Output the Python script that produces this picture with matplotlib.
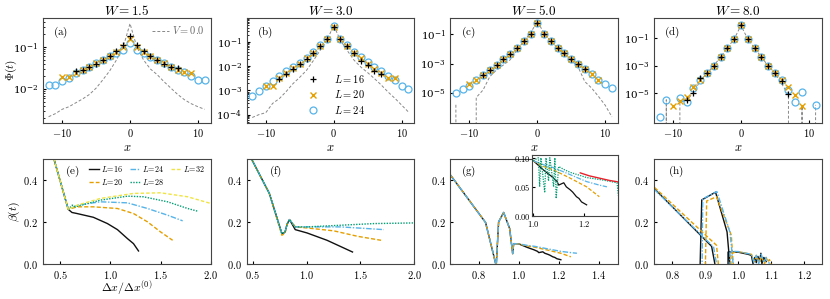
import numpy as np
import matplotlib.pyplot as plt
from matplotlib.ticker import FuncFormatter

plt.rcParams['mathtext.fontset'] = 'cm'
plt.rcParams['font.family'] = ['DejaVu Serif']
plt.rcParams['font.size'] = 7.5
plt.rcParams['axes.edgecolor'] = '#444444'
plt.rcParams['axes.linewidth'] = 0.8
plt.rcParams['xtick.direction'] = 'in'
plt.rcParams['ytick.direction'] = 'in'
plt.rcParams['xtick.major.size'] = 2.5
plt.rcParams['ytick.major.size'] = 2.5
plt.rcParams['xtick.minor.size'] = 1.2
plt.rcParams['ytick.minor.size'] = 1.2

orange = '#E69F00'
blue = '#56B4E9'
green = '#009E73'
yellow = '#F0E442'

# ---- top row: Phi(t) vs x ----
x16 = np.arange(-8, 8)
x20 = np.arange(-10, 10)
x24 = np.arange(-12, 12)

W_vals = [1.5, 3.0, 5.0, 8.0]

a16 = [0.027, 0.029, 0.034, 0.040, 0.049, 0.062, 0.082, 0.11, 0.185, 0.112, 0.082, 0.060, 0.049, 0.040, 0.034, 0.031]
a20 = [0.0195, 0.019, 0.024, 0.028, 0.034, 0.041, 0.049, 0.060, 0.075, 0.10, 0.155, 0.10, 0.075, 0.060, 0.049, 0.041, 0.034, 0.029, 0.025, 0.024]
a24 = [0.0123, 0.0124, 0.0157, 0.0188, 0.0237, 0.028, 0.034, 0.041, 0.049, 0.060, 0.072, 0.084, 0.124, 0.087, 0.072, 0.058, 0.049, 0.041, 0.034, 0.029, 0.025, 0.0205, 0.016, 0.016]
a_v0 = [0.0022, 0.0026, 0.0033, 0.0038, 0.0047, 0.0058, 0.0074, 0.0105, 0.0166, 0.027, 0.049, 0.10, 0.36, 0.10, 0.049, 0.030, 0.022, 0.015, 0.0106, 0.0075, 0.0056, 0.0045, 0.0038, 0.0033]

b16 = [3.1e-3, 4.6e-3, 8e-3, 0.012, 0.020, 0.036, 0.07, 0.135, 0.44, 0.135, 0.07, 0.036, 0.0166, 0.011, 6.5e-3, 4.6e-3]
b20 = [1.5e-3, 1.6e-3, 3.4e-3, 5.3e-3, 8.5e-3, 0.013, 0.021, 0.037, 0.07, 0.135, 0.44, 0.135, 0.07, 0.037, 0.021, 0.013, 8e-3, 5.3e-3, 3.4e-3, 3.2e-3]
b24 = [5.9e-4, 9.5e-4, 1.5e-3, 2.4e-3, 3.8e-3, 6.2e-3, 9.3e-3, 0.0136, 0.0225, 0.039, 0.073, 0.138, 0.45, 0.138, 0.073, 0.039, 0.024, 0.015, 0.0093, 0.0062, 0.0038, 2.6e-3, 1.5e-3, 1.1e-3]
b_v0 = [7.6e-5, 1.0e-4, 1.2e-4, 2.9e-4, 4.6e-4, 9e-4, 1.9e-3, 3.5e-3, 6.8e-3, 0.017, 0.045, 0.117, 0.49, 0.117, 0.045, 0.018, 9.3e-3, 5.5e-3, 3.1e-3, 1.7e-3, 8.7e-4, 4.8e-4, 2.5e-4, 1.3e-4]

c16 = [1.7e-4, 3.7e-4, 8e-4, 2e-3, 4.6e-3, 0.011, 0.032, 0.1, 0.56, 0.1, 0.032, 0.011, 5e-3, 2.2e-3, 9.5e-4, 4e-4]
c20 = [4.3e-5, 7.8e-5, 1.7e-4, 3.7e-4, 8e-4, 2e-3, 4.6e-3, 0.011, 0.032, 0.1, 0.56, 0.1, 0.032, 0.011, 5e-3, 2e-3, 9.5e-4, 4e-4, 2e-4, 7.5e-5]
c24 = [1e-5, 1.8e-5, 3e-5, 7.8e-5, 1.7e-4, 3.7e-4, 8e-4, 2e-3, 4.6e-3, 0.011, 0.032, 0.1, 0.56, 0.1, 0.032, 0.011, 5e-3, 2e-3, 9.5e-4, 4e-4, 2e-4, 7.8e-5, 4e-5, 2.1e-5]
c_v0 = [1.6e-6, 0, 0, 5e-6, 1.6e-5, 1.3e-4, 3.7e-4, 8e-4, 1.8e-3, 8.5e-3, 0.032, 0.12, 0.7, 0.12, 0.032, 0.011, 4e-3, 1.6e-3, 6e-4, 6e-5, 2.2e-5, 6e-6, 1.5e-6, 2.4e-7]

d16 = [3.5e-6, 1.1e-5, 1.2e-4, 3.2e-4, 1e-3, 4.3e-3, 0.019, 0.085, 0.8, 0.085, 0.019, 4.3e-3, 1e-3, 3e-4, 8e-5, 8.5e-6]
d20 = [1.3e-6, 3e-6, 6e-6, 3e-5, 1e-4, 3.2e-4, 1e-3, 4.3e-3, 0.019, 0.085, 0.8, 0.085, 0.019, 4.3e-3, 1e-3, 3e-4, 1e-4, 3e-5, 8e-6, 1.2e-6]
d24 = [2e-7, 3.5e-6, np.nan, 4.5e-6, 2.5e-6, 2.3e-5, 1e-4, 3.2e-4, 1e-3, 4.3e-3, 0.019, 0.085, 0.8, 0.085, 0.019, 4.3e-3, 1e-3, 3e-4, 1e-4, 1.7e-5, 2.5e-6, 1.3e-5, np.nan, 1.5e-6]
d_v0 = [0, 3.5e-6, 0, 2.5e-6, 3e-6, 1.2e-5, 8e-5, 3e-4, 1e-3, 4.3e-3, 0.019, 0.085, 0.8, 0.085, 0.019, 4.3e-3, 1e-3, 3e-4, 5e-5, 8e-6, 0, 1.2e-6, 0, 1.5e-6]

top_data = [(a16, a20, a24, a_v0), (b16, b20, b24, b_v0), (c16, c20, c24, c_v0), (d16, d20, d24, d_v0)]
top_ylims = [(1.6e-3, 0.49), (4.7e-5, 1.0), (1e-7, 1.25), (8e-8, 2.8)]
top_yticks = [[1e-2, 1e-1], [1e-4, 1e-3, 1e-2, 1e-1], [1e-5, 1e-3, 1e-1], [1e-5, 1e-3, 1e-1]]

# ---- bottom row: beta(t) vs dx/dx0 ----
e16_x = [0.42, 0.58, 0.617, 0.667, 0.83, 0.97, 1.07, 1.17, 1.23, 1.28]
e16_y = [0.53, 0.26, 0.245, 0.24, 0.222, 0.192, 0.163, 0.12, 0.096, 0.061]
e20_x = [0.42, 0.58, 0.67, 0.83, 1.07, 1.23, 1.37, 1.5, 1.62]
e20_y = [0.53, 0.26, 0.272, 0.272, 0.264, 0.24, 0.2, 0.152, 0.112]
e24_x = [0.42, 0.58, 0.67, 0.9, 1.17, 1.37, 1.57, 1.72]
e24_y = [0.53, 0.26, 0.28, 0.296, 0.291, 0.264, 0.232, 0.205]
e28_x = [0.42, 0.58, 0.62, 0.65, 0.9, 1.17, 1.33, 1.57, 1.77, 1.87]
e28_y = [0.53, 0.26, 0.28, 0.272, 0.304, 0.323, 0.32, 0.296, 0.264, 0.251]
e32_x = [0.42, 0.58, 0.67, 0.9, 1.23, 1.5, 1.77, 2.0]
e32_y = [0.53, 0.26, 0.28, 0.312, 0.336, 0.339, 0.32, 0.288]

f16_x = [0.46, 0.655, 0.771, 0.80, 0.82, 0.842, 0.895, 1.005, 1.19, 1.426]
f16_y = [0.53, 0.336, 0.144, 0.15, 0.19, 0.211, 0.163, 0.147, 0.112, 0.056]
f20_x = [0.46, 0.655, 0.771, 0.80, 0.82, 0.842, 0.895, 1.005, 1.254, 1.473, 1.691]
f20_y = [0.53, 0.336, 0.136, 0.145, 0.19, 0.211, 0.176, 0.171, 0.157, 0.131, 0.112]
f24_x = [0.46, 0.655, 0.771, 0.80, 0.82, 0.842, 0.895, 1.005, 1.317, 1.717]
f24_y = [0.53, 0.336, 0.144, 0.15, 0.19, 0.211, 0.176, 0.176, 0.176, 0.163]
f28_x = [0.46, 0.655, 0.771, 0.80, 0.82, 0.842, 0.895, 1.005, 1.317, 1.63, 2.0]
f28_y = [0.53, 0.336, 0.144, 0.15, 0.19, 0.211, 0.176, 0.176, 0.184, 0.192, 0.195]

g_head_x = [0.64, 0.835, 0.888, 0.9, 0.925, 0.955, 0.97, 0.975, 1.0]
g_head_y = [0.45, 0.197, -0.01, 0.2, 0.245, 0.168, 0.048, 0.096, 0.095]
g16_x = [1.02, 1.04, 1.06, 1.075, 1.094, 1.10, 1.12, 1.13, 1.145, 1.155, 1.17, 1.18, 1.19, 1.21]
g16_y = [0.087, 0.079, 0.072, 0.067, 0.059, 0.053, 0.057, 0.05, 0.045, 0.041, 0.033, 0.03, 0.024, 0.019]
g20_x = [1.04, 1.08, 1.145, 1.21, 1.26]
g20_y = [0.085, 0.079, 0.065, 0.05, 0.033]
g24_x = [1.04, 1.08, 1.145, 1.21, 1.26, 1.29]
g24_y = [0.088, 0.083, 0.071, 0.059, 0.053, 0.05]
g28_x = [1.0, 1.02, 1.025, 1.03, 1.045, 1.05, 1.06, 1.065, 1.08, 1.085, 1.09, 1.1, 1.12, 1.145, 1.21, 1.27, 1.33, 1.335]
g28_y = [0.095, 0.1, 0.05, 0.1, 0.04, 0.1, 0.06, 0.1, 0.05, 0.1, 0.03, 0.085, 0.08, 0.075, 0.066, 0.062, 0.057, 0.035]
gfit_x = [1.185, 1.22, 1.26, 1.30, 1.34]
gfit_y = [0.074, 0.069, 0.065, 0.061, 0.058]

h16_x = [0.744, 0.919, 0.93, 0.884, 0.889, 0.931, 0.966, 0.975, 0.969, 0.969, 1.0, 1.03, 1.04, 1.045, 1.05, 1.055, 1.06, 1.065, 1.069, 1.072, 1.078, 1.085]
h16_y = [0.36, 0.083, -0.01, -0.01, 0.305, 0.342, 0.152, -0.01, -0.01, 0.056, 0.055, 0.045, 0.04, 0.0, 0.03, 0.005, 0.035, 0.01, 0.05, 0.0, 0.03, 0.01]
h20_x = [0.745, 0.934, 0.94, 0.9, 0.904, 0.934, 0.979, 0.985, 0.978, 0.978, 1.0, 1.04, 1.05, 1.055, 1.065, 1.07, 1.08, 1.085, 1.09, 1.095, 1.10]
h20_y = [0.365, 0.088, -0.01, -0.01, 0.30, 0.32, 0.136, -0.01, -0.01, 0.05, 0.058, 0.045, 0.01, 0.04, 0.005, 0.035, 0.0, 0.03, 0.01, 0.02, 0.0]
h24_x = [0.745, 0.925, 0.935, 0.89, 0.892, 0.935, 0.975, 0.985, 0.975, 0.975, 1.0, 1.04, 1.048, 1.055, 1.062, 1.07, 1.078, 1.085, 1.095]
h24_y = [0.355, 0.08, -0.01, -0.01, 0.31, 0.345, 0.15, -0.01, -0.01, 0.06, 0.058, 0.045, 0.005, 0.04, 0.0, 0.045, 0.005, 0.03, 0.0]

fig, axes = plt.subplots(2, 4, figsize=(8.3, 2.99), dpi=100)
fig.subplots_adjust(left=0.052, right=0.99, top=0.94, bottom=0.118, wspace=0.215, hspace=0.35)

int_fmt = FuncFormatter(lambda v, p: f'${v:.0f}$')
one_fmt = FuncFormatter(lambda v, p: f'${v:.1f}$')
two_fmt = FuncFormatter(lambda v, p: f'${v:.2f}$')

top_labels = ['(a)', '(b)', '(c)', '(d)']
for i, ax in enumerate(axes[0]):
    p16, p20, p24, pv0 = top_data[i]
    ax.set_yscale('log')
    lv, = ax.plot(x24, pv0, linestyle=(0, (3, 2)), color='#888888', lw=0.7, label=r'$V = 0.0$')
    l24, = ax.plot(x24, p24, 'o', mfc='none', mec=blue, ms=5, mew=0.9, label=r'$L = 24$')
    l20, = ax.plot(x20, p20, 'x', color=orange, ms=4.3, mew=1.0, label=r'$L = 20$')
    l16, = ax.plot(x16, p16, '+', color='k', ms=5, mew=0.9, label=r'$L = 16$')
    ax.set_xlim(-12.8, 11.9)
    ax.set_ylim(*top_ylims[i])
    ax.set_yticks(top_yticks[i])
    ax.set_xticks([-10, 0, 10])
    ax.xaxis.set_major_formatter(int_fmt)
    ax.set_xlabel(r'$x$', labelpad=1, fontsize=9)
    ax.set_title(r'$W = %.1f$' % W_vals[i], fontsize=9.5, pad=2)
    ax.text(0.06, 0.865, r'$\mathrm{%s}$' % top_labels[i], transform=ax.transAxes, ha='left', va='center', fontsize=8)
    if i == 0:
        ax.set_ylabel(r'$\Phi(t)$', fontsize=8)
        ax.yaxis.set_label_coords(-0.145, 0.5)
        ax.legend(handles=[lv], loc='upper right', frameon=False, fontsize=7.5, handlelength=1.6,
                  handletextpad=0.3, borderaxespad=0.2, labelcolor='#666666')
    if i == 1:
        ax.legend(handles=[l16, l20, l24], loc='center', bbox_to_anchor=(0.52, 0.27), frameon=False,
                  fontsize=7.5, handletextpad=1.0, labelspacing=0.35)

bottom_labels = ['(e)', '(f)', '(g)', '(h)']
bottom_xlims = [(0.33, 2.0), (0.446, 2.0), (0.66, 1.495), (0.744, 1.254)]
bottom_xticks = [[0.5, 1.0, 1.5, 2.0], [0.5, 1.0, 1.5, 2.0], [0.8, 1.0, 1.2, 1.4], [0.8, 0.9, 1.0, 1.1, 1.2]]
label_x = [0.13, 0.13, 0.06, 0.08]

ls20 = (0, (3, 1.5))
ls24 = (0, (4, 1.2, 1, 1.2))
ls28 = (0, (1, 1))
ls32 = (0, (2.5, 1.5))

ax = axes[1][0]
ax.plot(e16_x, e16_y, color='#111111', lw=1.0, label=r'$L\!=\!16$')
ax.plot(e20_x, e20_y, color=orange, lw=1.0, ls=ls20, label=r'$L\!=\!20$')
ax.plot(e24_x, e24_y, color=blue, lw=1.0, ls=ls24, label=r'$L\!=\!24$')
ax.plot(e28_x, e28_y, color=green, lw=1.0, ls=ls28, label=r'$L\!=\!28$')
ax.plot(e32_x, e32_y, color=yellow, lw=1.0, ls=ls32, label=r'$L\!=\!32$')
ax.legend(loc='upper right', bbox_to_anchor=(1.0, 1.01), ncol=3, frameon=False, fontsize=5.8,
          handlelength=1.3, handletextpad=0.2, columnspacing=0.9, labelspacing=0.35, borderaxespad=0.3)
ax.set_ylabel(r'$\beta(t)$', labelpad=1, fontsize=8.5)
ax.set_xlabel(r'$\Delta x/\Delta x^{(0)}$', labelpad=-1, fontsize=8.5)

ax = axes[1][1]
ax.plot(f16_x, f16_y, color='#111111', lw=1.0)
ax.plot(f20_x, f20_y, color=orange, lw=1.0, ls=ls20)
ax.plot(f24_x, f24_y, color=blue, lw=1.0, ls=ls24)
ax.plot(f28_x, f28_y, color=green, lw=1.0, ls=ls28)

ax = axes[1][2]
ax.plot(g_head_x + g16_x, g_head_y + g16_y, color='#111111', lw=1.0)
ax.plot(g_head_x + g20_x, g_head_y + g20_y, color=orange, lw=1.0, ls=ls20)
ax.plot(g_head_x + g24_x, g_head_y + g24_y, color=blue, lw=1.0, ls=ls24)

ax = axes[1][3]
ax.plot(h16_x, h16_y, color='#111111', lw=1.0)
ax.plot(h20_x, h20_y, color=orange, lw=1.0, ls=ls20)
ax.plot(h24_x, h24_y, color=blue, lw=1.0, ls=ls24)

for i, ax in enumerate(axes[1]):
    ax.set_xlim(*bottom_xlims[i])
    ax.set_ylim(0, 0.5)
    ax.set_yticks([0.0, 0.2, 0.4])
    ax.set_xticks(bottom_xticks[i])
    ax.xaxis.set_major_formatter(one_fmt)
    ax.yaxis.set_major_formatter(one_fmt)
    ax.text(label_x[i], 0.885, r'$\mathrm{%s}$' % bottom_labels[i], transform=ax.transAxes, ha='left', va='center', fontsize=8)

# inset of panel (g)
ins = fig.add_axes([0.641, 0.278, 0.104, 0.204])
ins.plot([1.0] + g16_x, [0.095] + g16_y, color='#111111', lw=0.9)
ins.plot([1.0] + g20_x, [0.095] + g20_y, color=orange, lw=0.9, ls=ls20)
ins.plot([1.0] + g24_x, [0.095] + g24_y, color=blue, lw=0.9, ls=ls24)
ins.plot(g28_x, g28_y, color=green, lw=0.9, ls=ls28)
ins.plot(gfit_x, gfit_y, color='#E8202A', lw=1.0)
ins.set_xlim(0.995, 1.335)
ins.set_ylim(0, 0.105)
ins.set_xticks([1.0, 1.2])
ins.set_yticks([0.0, 0.05, 0.10])
ins.xaxis.set_major_formatter(one_fmt)
ins.yaxis.set_major_formatter(two_fmt)
ins.tick_params(labelsize=6, pad=1)
ins.tick_params(axis='x', pad=2)

plt.savefig('out.png', dpi=100)
